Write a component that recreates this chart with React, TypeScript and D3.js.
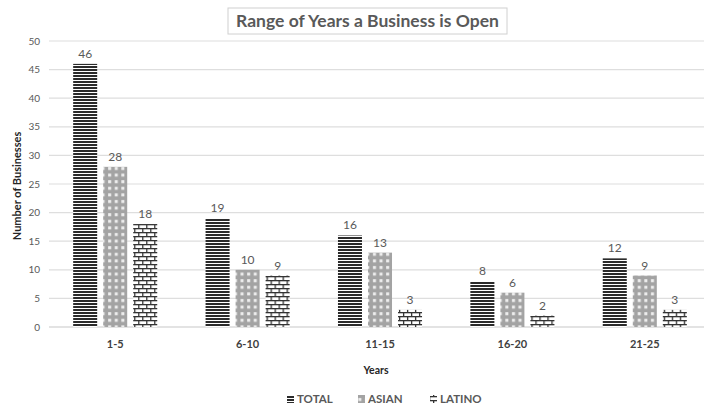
import React from "react";
import * as d3 from "d3";

const categories = ["1-5", "6-10", "11-15", "16-20", "21-25"];
const series = ["TOTAL", "ASIAN", "LATINO"];
const totalValues = [46, 19, 16, 8, 12];
const asianValues = [28, 10, 13, 6, 9];
const latinoValues = [18, 9, 3, 2, 3];
const yTicks = [0, 5, 10, 15, 20, 25, 30, 35, 40, 45, 50];

const W = 704;
const H = 408;
const plot = { left: 49, right: 711, top: 41, bottom: 327 };
const font = "Lato, 'Open Sans', sans-serif";
const textGray = "#595959";

const valuesBySeries: Record<string, number[]> = {
  TOTAL: totalValues,
  ASIAN: asianValues,
  LATINO: latinoValues,
};
const fills: Record<string, string> = {
  TOTAL: "url(#pat-total)",
  ASIAN: "url(#pat-asian)",
  LATINO: "url(#pat-latino)",
};

export default function App() {
  const x = d3
    .scaleBand<string>()
    .domain(categories)
    .range([plot.left, plot.right])
    .paddingInner(0.365)
    .paddingOuter(0.1825);
  const xs = d3
    .scaleBand<string>()
    .domain(series)
    .range([0, x.bandwidth()])
    .paddingInner(0.2);
  const y = d3.scaleLinear().domain([0, 50]).range([plot.bottom, plot.top]);

  return (
    <svg
      width={W}
      height={H}
      viewBox={`0 0 ${W} ${H}`}
      style={{ position: "absolute", left: 0, top: 0, background: "#fff" }}
    >
      <defs>
        <pattern id="pat-total" patternUnits="userSpaceOnUse" width={6} height={3}>
          <rect width={6} height={3} fill="#fff" />
          <rect width={6} height={2} fill="#2b2b2b" />
        </pattern>
        <pattern id="pat-asian" patternUnits="userSpaceOnUse" width={6.6} height={6.6}>
          <rect width={6.6} height={6.6} fill="#a3a3a3" />
          <rect x={2} y={2} width={3} height={3} fill="#eeeeee" />
        </pattern>
        <pattern id="pat-latino" patternUnits="userSpaceOnUse" width={8} height={8}>
          <rect width={8} height={8} fill="#fff" />
          <rect x={0} y={0} width={8} height={1.3} fill="#333" />
          <rect x={0} y={4} width={8} height={1.3} fill="#333" />
          <rect x={1} y={0} width={1.3} height={4} fill="#333" />
          <rect x={5} y={4} width={1.3} height={4} fill="#333" />
        </pattern>
      </defs>

      {/* title */}
      <rect x={228} y={8} width={279} height={26} fill="#fff" stroke="#d0d0d0" strokeWidth={1} />
      <text
        x={367.5}
        y={27}
        textAnchor="middle"
        fontFamily={font}
        fontWeight="bold"
        fontSize={17.5}
        fill={textGray}
      >
        Range of Years a Business is Open
      </text>

      {/* gridlines and y tick labels */}
      {yTicks.map((t) => (
        <g key={t}>
          <line
            x1={plot.left}
            x2={plot.right}
            y1={y(t)}
            y2={y(t)}
            stroke={t === 0 ? "#c8c8c8" : "#dedede"}
            strokeWidth={1.2}
          />
          <text
            x={40}
            y={y(t) + 3.5}
            textAnchor="end"
            fontFamily={font}
            fontSize={10}
            fill={textGray}
          >
            {t}
          </text>
        </g>
      ))}

      {/* bars and value labels */}
      {categories.map((c, i) => (
        <g key={c} transform={`translate(${x(c)},0)`}>
          {series.map((s) => {
            const v = valuesBySeries[s][i];
            const bx = xs(s)!;
            return (
              <g key={s}>
                <rect
                  x={bx}
                  y={y(v)}
                  width={xs.bandwidth()}
                  height={y(0) - y(v)}
                  fill={fills[s]}
                />
                <text
                  x={bx + xs.bandwidth() / 2}
                  y={y(v) - 6}
                  textAnchor="middle"
                  fontFamily={font}
                  fontSize={12}
                  fill={textGray}
                >
                  {v}
                </text>
              </g>
            );
          })}
          <text
            x={x.bandwidth() / 2}
            y={348}
            textAnchor="middle"
            fontFamily={font}
            fontWeight="bold"
            fontSize={11}
            fill="#404040"
          >
            {c}
          </text>
        </g>
      ))}

      {/* axis titles */}
      <text
        x={376}
        y={374}
        textAnchor="middle"
        fontFamily={font}
        fontWeight="bold"
        fontSize={10.5}
        fill="#262626"
      >
        Years
      </text>
      <text
        transform={`translate(21,${(plot.top + plot.bottom) / 2 + 2}) rotate(-90)`}
        textAnchor="middle"
        fontFamily={font}
        fontWeight="bold"
        fontSize={11}
        fill="#262626"
      >
        Number of Businesses
      </text>

      {/* legend */}
      {[
        { s: "TOTAL", x: 287 },
        { s: "ASIAN", x: 358 },
        { s: "LATINO", x: 430 },
      ].map((l) => (
        <g key={l.s}>
          <rect x={l.x} y={395} width={7} height={8} fill={fills[l.s]} />
          <text
            x={l.x + 10}
            y={403}
            fontFamily={font}
            fontWeight="bold"
            fontSize={11.5}
            fill={textGray}
          >
            {l.s}
          </text>
        </g>
      ))}
    </svg>
  );
}
